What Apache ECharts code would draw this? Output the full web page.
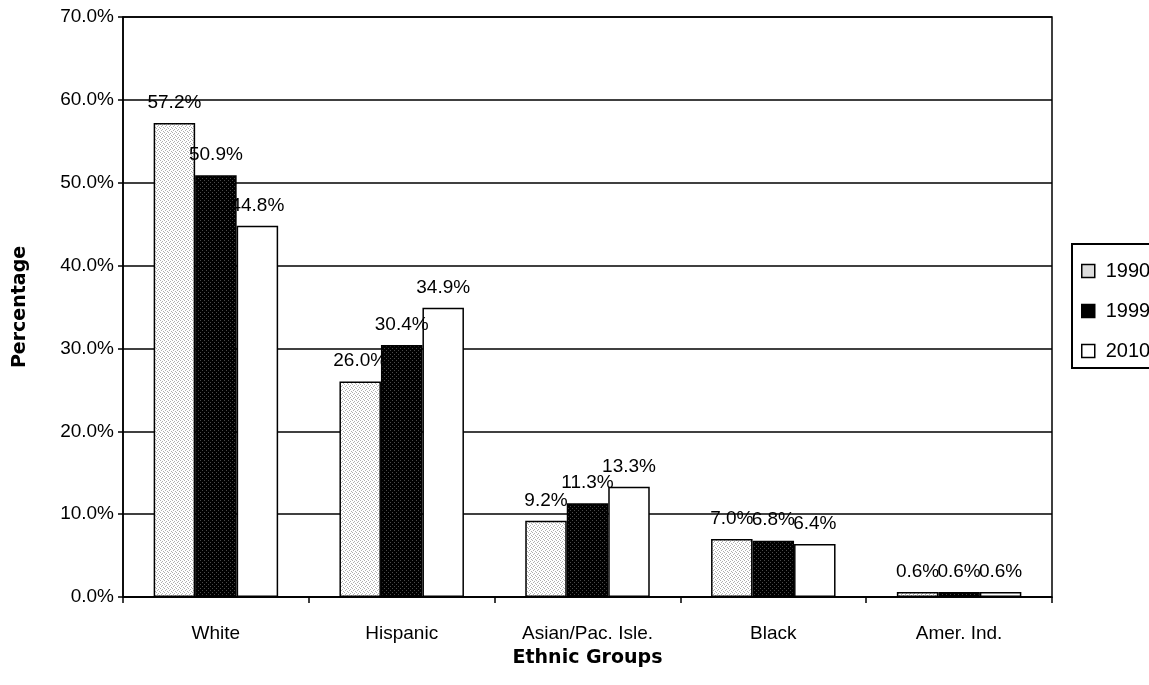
<!DOCTYPE html>
<html>
<head>
<meta charset="utf-8">
<script src="https://cdn.jsdelivr.net/npm/echarts@6/dist/echarts.min.js"></script>
<style>
  html, body { margin: 0; padding: 0; background: #fff; }
  #chart { width: 1149px; height: 685px; }
</style>
</head>
<body>
<div id="chart"></div>
<script>
// Share of population by ethnic group, three census years
const categories = ['White', 'Hispanic', 'Asian/Pac. Isle.', 'Black', 'Amer. Ind.'];
const years = ['1990', '1999', '2010'];
const values1990 = [57.2, 26.0, 9.2, 7.0, 0.6];
const values1999 = [50.9, 30.4, 11.3, 6.8, 0.6];
const values2010 = [44.8, 34.9, 13.3, 6.4, 0.6];
const yTicks = [0, 10, 20, 30, 40, 50, 60, 70];

const font = 'Liberation Sans, Arial, sans-serif';
const titleFont = 'DejaVu Sans, Verdana, sans-serif';

// Small dithered tile used as a fill texture
function ditherTile(fg, bg, mask) {
  const c = document.createElement('canvas');
  c.width = 4; c.height = 4;
  const ctx = c.getContext('2d');
  ctx.fillStyle = bg; ctx.fillRect(0, 0, 4, 4);
  ctx.fillStyle = fg;
  for (let y = 0; y < 4; y++) for (let x = 0; x < 4; x++) {
    if (mask[y][x]) ctx.fillRect(x, y, 1, 1);
  }
  return c;
}
const lightTile = ditherTile('#b0b0b0', '#ffffff', [[1,0,0,0],[0,0,1,0],[0,1,0,0],[0,0,0,1]]);
const darkTile = ditherTile('#4a4a4a', '#000000', [[1,0,0,0],[0,0,0,0],[0,0,1,0],[0,0,0,0]]);

const fills = [
  { image: lightTile, repeat: 'repeat' },
  { image: darkTile, repeat: 'repeat' },
  '#ffffff'
];
const legendFills = ['#dcdcdc', '#000000', '#ffffff'];

function barSeries(name, data, idx) {
  return {
    name: name,
    type: 'bar',
    data: data,
    barGap: '0%',
    barCategoryGap: '33%',
    itemStyle: { color: fills[idx], borderColor: '#000', borderWidth: 1.5 },
    label: {
      show: true,
      position: 'top',
      distance: 11,
      formatter: p => p.value.toFixed(1) + '%',
      fontFamily: font,
      fontSize: 19,
      color: '#000'
    }
  };
}

const chart = echarts.init(document.getElementById('chart'), null, { renderer: 'canvas' });
chart.setOption({
  animation: false,
  backgroundColor: '#fff',
  grid: { left: 123, right: 97, top: 17, bottom: 88, containLabel: false,
          show: true, borderColor: '#000', borderWidth: 1.5 },
  legend: {
    orient: 'vertical',
    left: 1072, top: 244,
    padding: [17, 30, 7, 9],
    itemGap: 20,
    itemWidth: 13, itemHeight: 13,
    borderColor: '#000', borderWidth: 2,
    textStyle: { fontFamily: font, fontSize: 20, color: '#000', padding: [0, 0, 0, 6] },
    data: years.map((y, i) => ({
      name: y,
      icon: 'rect',
      itemStyle: { color: legendFills[i], borderColor: '#000', borderWidth: 1.5 }
    }))
  },
  xAxis: {
    type: 'category',
    data: categories,
    name: 'Ethnic Groups',
    nameLocation: 'middle',
    nameGap: 52,
    nameTextStyle: { fontFamily: titleFont, fontWeight: 'bold', fontSize: 19, color: '#000' },
    axisLine: { lineStyle: { color: '#000', width: 1.5 } },
    axisTick: { show: true, length: 6, lineStyle: { color: '#000', width: 1.5 } },
    axisLabel: { fontFamily: font, fontSize: 19, color: '#000', margin: 27 }
  },
  yAxis: {
    type: 'value',
    min: yTicks[0],
    max: yTicks[yTicks.length - 1],
    interval: 10,
    name: 'Percentage',
    nameLocation: 'middle',
    nameGap: 93,
    nameTextStyle: { fontFamily: titleFont, fontWeight: 'bold', fontSize: 19, color: '#000' },
    axisLine: { show: true, lineStyle: { color: '#000', width: 1.5 } },
    axisTick: { show: true, length: 5, inside: false, lineStyle: { color: '#000', width: 1.5 } },
    axisLabel: { fontFamily: font, fontSize: 19, color: '#000', margin: 9,
                 formatter: v => v.toFixed(1) + '%' },
    splitLine: { show: true, lineStyle: { color: '#000', width: 1.5 } }
  },
  series: [
    barSeries(years[0], values1990, 0),
    barSeries(years[1], values1999, 1),
    barSeries(years[2], values2010, 2)
  ]
});
</script>
</body>
</html>
